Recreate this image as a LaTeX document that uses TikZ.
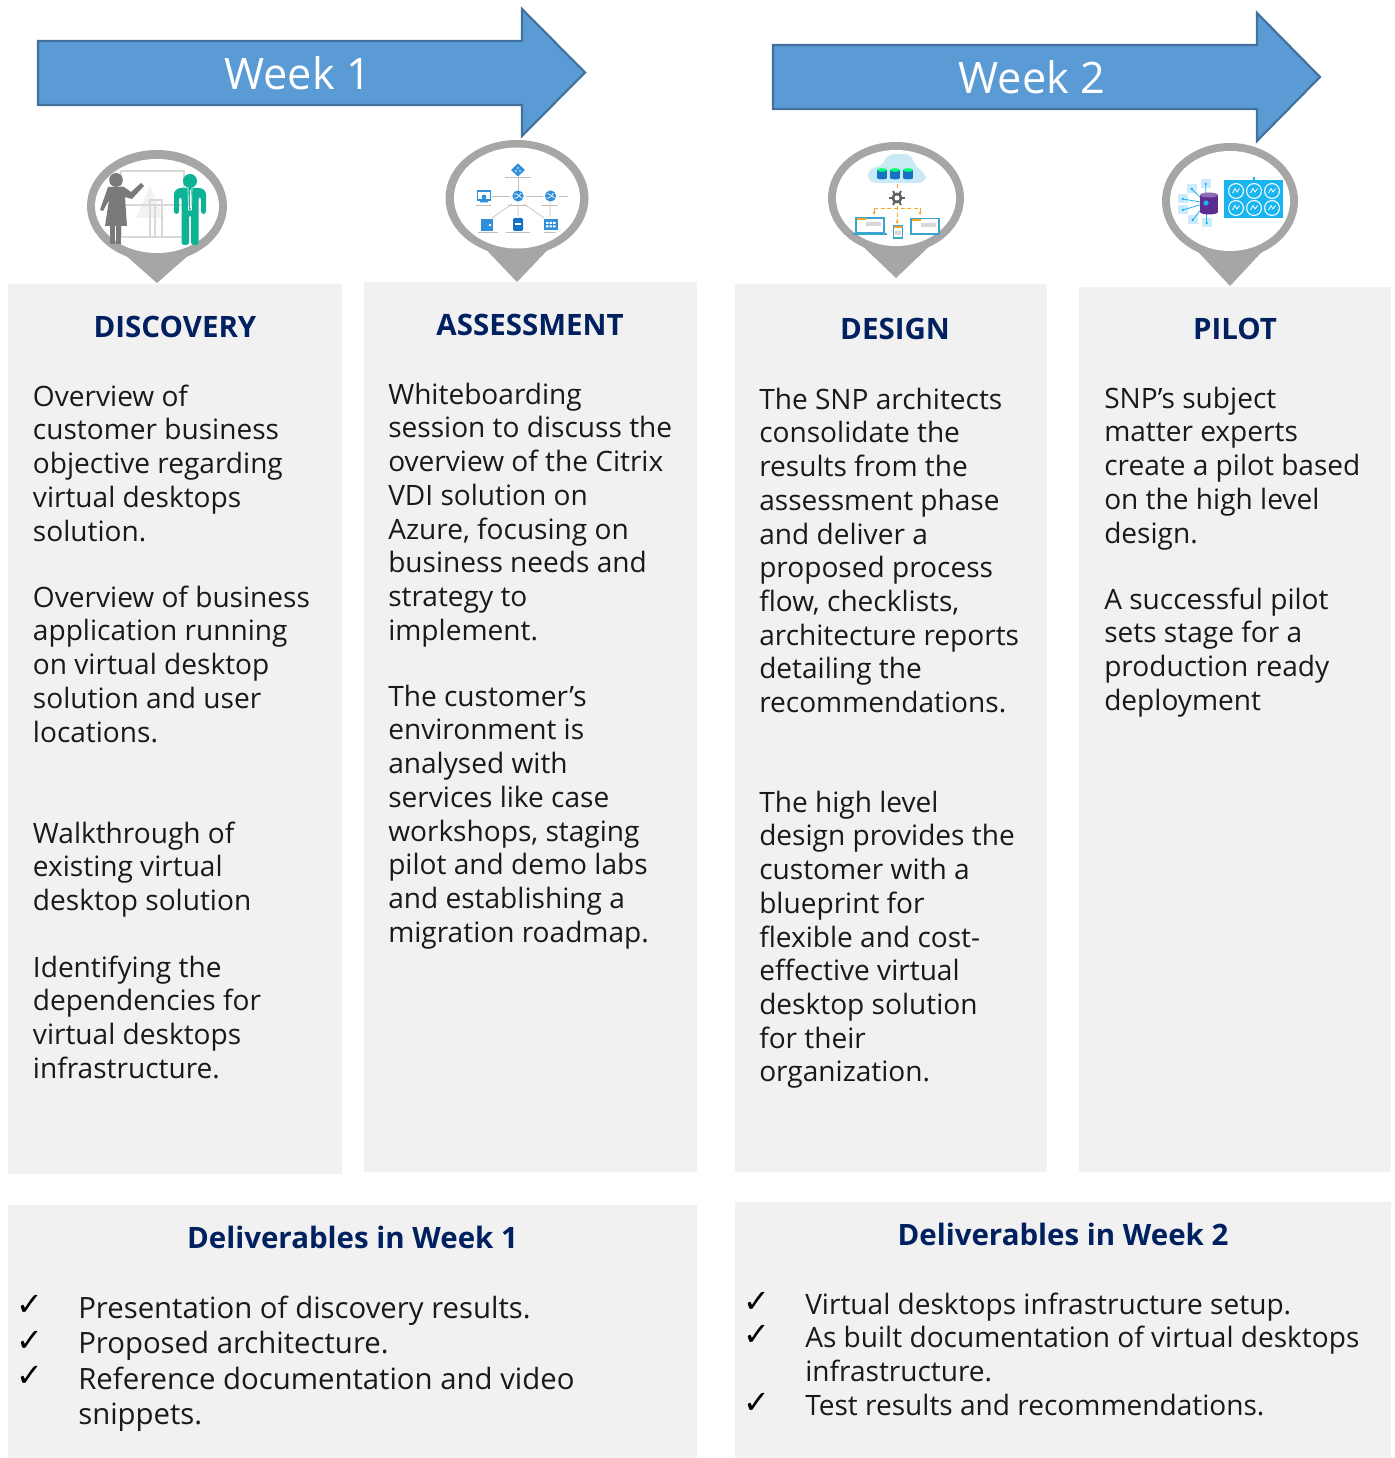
\documentclass[tikz,border=0pt]{standalone}
\usepackage{fontspec}
\setmainfont{Open Sans}
\newfontfamily\chk{DejaVu Sans}
\definecolor{panelgray}{HTML}{F1F1F1}
\definecolor{navy}{HTML}{002060}
\definecolor{arrowfill}{HTML}{5B9BD5}
\definecolor{arrowedge}{HTML}{41719C}
\definecolor{pingray}{HTML}{A6A6A6}
\definecolor{azure}{HTML}{2F8FD8}
\definecolor{azdark}{HTML}{1572C4}
\definecolor{teal1}{HTML}{0DB394}
\definecolor{wgray}{HTML}{7A7A7A}
\definecolor{cyanb}{HTML}{19B5F1}
\definecolor{cyanl}{HTML}{CDEBFA}
\definecolor{orng}{HTML}{F5A623}
\definecolor{cloudb}{HTML}{C9E9F4}
\definecolor{purp}{HTML}{5C2D91}
\tikzset{
 panel/.style={fill=panelgray},
 weekarrow/.style={fill=arrowfill,draw=arrowedge,line width=1.6pt,line join=miter},
 weeklabel/.style={text=white,font=\fontsize{32.5}{40}\selectfont,inner sep=0},
 title/.style={text=navy,font=\fontsize{22.1}{28}\selectfont\bfseries,inner sep=0},
 para/.style={anchor=north west,align=left,inner sep=0,yshift=17pt,text=black!90,font=\fontsize{21.05}{25.27}\selectfont},
 paralarge/.style={para,font=\fontsize{22}{26.6}\selectfont},
 tick/.style={inner sep=0,font=\fontsize{24}{28}\selectfont\chk,text=black},
 tinyline/.style={draw=black!25,line width=.5pt},
}
\newcommand\mypin[7]{% cx cy orx ory irx iry tipy
 \fill[pingray] (#1,#2) ellipse [x radius=#3,y radius=#4];
 \fill[pingray] (#1-42,#2+40) -- (#1,#7) -- (#1+42,#2+40) -- cycle;
 \fill[white] (#1,#2) ellipse [x radius=#5,y radius=#6];
}
\newcommand\azglobe[2]{%
 \fill[azure] (#1,#2) circle [radius=5.6];
 \draw[white,line width=.5pt] (#1-4,#2-2) .. controls (#1,#2-3) and (#1+2,#2+1) .. (#1+4,#2+2);
 \draw[white,line width=.5pt] (#1-4,#2+2) .. controls (#1-1,#2+3) and (#1+2,#2-1) .. (#1+3,#2-3);
}
\newcommand\minicirc[2]{%
 \fill[white] (#1,#2) circle [radius=8];
 \fill[cyanb] (#1,#2) circle [radius=6.8];
 \draw[white,line width=.6pt] (#1-3.5,#2+2) -- (#1-1,#2-2.5) -- (#1+1,#2+1) -- (#1+3.5,#2-2.5);
}
\newcommand\minitile[2]{%
 \fill[cyanl] (#1-5,#2-4.5) rectangle (#1+5,#2+4.5);
 \fill[cyanb] (#1,#2) circle [radius=1.4];
}
\begin{document}
\begin{tikzpicture}[x=.75pt,y=-.75pt]
\useasboundingbox (0,0) rectangle (1394,1458);
% panels
\fill[panel] (8,284) rectangle (342,1174);
\fill[panel] (364,282) rectangle (697,1172);
\fill[panel] (735,284) rectangle (1047,1172);
\fill[panel] (1079,287) rectangle (1391,1172);
\fill[panel] (8,1205) rectangle (697,1458);
\fill[panel] (735,1202) rectangle (1391,1458);
% arrows
\draw[weekarrow] (38,41) -- (522,41) -- (522,9) -- (585,72.5) -- (522,136) -- (522,105) -- (38,105) -- cycle;
\draw[weekarrow] (773,45) -- (1257,45) -- (1257,13) -- (1320,77) -- (1257,141) -- (1257,109) -- (773,109) -- cycle;
\node[weeklabel] (week1) at (297.5,73) {Week 1};
\node[weeklabel] (week2) at (1032,77) {Week 2};
% pins
\mypin{157}{206}{70}{56}{62}{47}{283}
\mypin{517}{198}{71.5}{58}{63}{50.5}{282}
\mypin{896}{198}{68}{56}{60}{48}{278}
\mypin{1230}{201}{68}{58}{60}{50}{286}
% --- discovery icon
\draw[black!15,line width=1.8pt] (121,171) rectangle (184,237);
\fill[black!5] (150,186) -- (136,218) -- (164,218) -- cycle;
\draw[black!15,line width=1.6pt] (122,205) -- (184,205);
\draw[black!15,line width=1.2pt] (150,237) -- (150,200) -- (162,200) -- (162,237);
\draw[black!15,line width=1.2pt] (155,237) -- (155,206);
% woman
\fill[wgray] (116,180) ellipse [x radius=6.8,y radius=7];
\fill[wgray] (108,187) -- (124,187) -- (131,192) -- (141,183) -- (144,186) -- (132,199) -- (125,197) -- (127,226) -- (105,226) -- (109,200) -- (103,211) -- (100,210) -- cycle;
\fill[wgray] (110,224) rectangle (115,244);
\fill[wgray] (116,224) rectangle (121,244);
% man
\fill[teal1] (190,181) ellipse [x radius=7,y radius=7];
\fill[teal1,rounded corners=2pt] (178,188) -- (202,188) -- (206,192) -- (206,214) -- (201,214) -- (201,197) -- (198.5,197) -- (198.5,245) -- (191,245) -- (191,215) -- (189,215) -- (189,245) -- (181.5,245) -- (181.5,197) -- (179,197) -- (179,214) -- (174,214) -- (174,192) -- cycle;
\draw[white,line width=.5pt] (188,188) -- (188.5,210) -- (191.5,210) -- (192,188);
\draw[white,line width=.6pt] (190,190) -- (190,208);
% --- assessment icon
\draw[tinyline] (518,178) -- (518,190) (492,196) -- (510,196) (526,196) -- (543,196) (559,196) -- (568,196);
\draw[tinyline] (512,204) -- (492,218) (518,204) -- (518,216) (524,204) -- (544,218) (550,203) -- (550,216);
\fill[azure] (518,163.5) -- (525,170) -- (518,176.5) -- (511,170) -- cycle;
\fill[white] (518,168) circle [radius=.9] (516,171) circle [radius=.9] (520,171) circle [radius=.9];
\azglobe{518}{196}
\azglobe{550.5}{196}
\fill[azure] (476.5,190) rectangle (491,201);
\fill[white] (478,192.5) rectangle (489.5,199);
\fill[azure] (484,197) circle [radius=2.4] (480,201) rectangle (488,202.5);
\fill[azure] (481,219) rectangle (493,231);
\fill[white] (490,225) circle [radius=1.4];
\fill[azdark,rounded corners=1pt] (513,218) rectangle (523,231);
\fill[white] (515,223.5) rectangle (521,225);
\fill[azure] (544,219) rectangle (558,230);
\foreach \xx in {546,549.5,553}{\fill[white] (\xx,222) rectangle (\xx+2.6,224) (\xx,225.5) rectangle (\xx+2.6,227.5);}
\draw[tinyline] (505,177.5) -- (531,177.5) (476,205) -- (491,205) (508,205) -- (527,205) (541,205) -- (558,205) (478,232.5) -- (498,232.5) (506,232.5) -- (530,232.5) (544,232.5) -- (556,232.5);
% --- design icon
\fill[cloudb,rounded corners=6pt] (868,183) -- (868,168) -- (884,166) -- (886,154) -- (912,154) -- (915,168) -- (926,172) -- (926,183) -- cycle;
\foreach \xx in {882,895,908}{
 \fill[azdark] (\xx-5,170) rectangle (\xx+5,178);
 \fill[azdark] (\xx,178) ellipse [x radius=5,y radius=1.4];
 \fill[green!55!cyan] (\xx,170) ellipse [x radius=5,y radius=1.8];
}
\draw[orng,densely dashed,line width=.7pt] (897,184) -- (897,190);
\draw[orng,densely dashed,line width=.7pt] (897,206) -- (897,222);
\draw[orng,densely dashed,line width=.7pt] (874,208) -- (920,208);
\draw[orng,densely dashed,line width=.7pt] (874,208) -- (874,213);
\draw[orng,densely dashed,line width=.7pt] (920,208) -- (920,213);
\fill[orng] (895.5,221) -- (898.5,221) -- (897,224) -- cycle (872.5,212) -- (875.5,212) -- (874,215) -- cycle (918.5,212) -- (921.5,212) -- (920,215) -- cycle;
\fill[wgray!80!black] (897,198) circle [radius=5.5];
\foreach \a in {0,60,...,300}{\draw[wgray!80!black,line width=1.5pt] (897,198) -- ++(\a:8);}
\fill[white] (897,198) circle [radius=2.5];
\draw[cyanb!70!gray,line width=1pt,fill=white] (856,218) rectangle (884,233);
\fill[orng] (857,218.5) rectangle (866,220);
\fill[black!15] (866,222) rectangle (881,226);
\fill[cyanb!70!gray] (853,233) rectangle (887,235);
\draw[cyanb!70!gray,line width=1pt,fill=white] (893.5,225.5) rectangle (902.5,238);
\fill[orng] (894,226) rectangle (902,228);
\fill[black!15] (895,231) rectangle (901,235);
\draw[cyanb!70!gray,line width=1.2pt,fill=white] (911,218.5) rectangle (939,234);
\fill[orng] (912,219) rectangle (921,221);
\fill[black!15] (921,223) rectangle (936,227);
% --- pilot icon
\coordinate (hub) at (1206,203);
\foreach \px/\py in {1205.7/184,1191.7/189,1182.7/199,1182.7/210,1192.7/220,1206.7/223}{
 \minitile{\px}{\py}
 \draw[cyanb,line width=.6pt] (hub) -- (\px,\py);
}
\fill[purp] (1200,195) rectangle (1218,212);
\fill[purp] (1209,212) ellipse [x radius=9,y radius=2.5];
\fill[purp!70] (1209,195) ellipse [x radius=9,y radius=2.5];
\fill[cyanb] (hub) circle [radius=2.6];
\fill[cyanb] (1224,180) rectangle (1283,218);
\fill[cyanb] (1253,177) rectangle (1255,180);
\minicirc{1236}{191}
\minicirc{1254}{191}
\minicirc{1272}{191}
\minicirc{1236}{208}
\minicirc{1254}{208}
\minicirc{1272}{208}
% titles
\node[title] (t1) at (175,327) {DISCOVERY};
\node[title] (t2) at (530,325) {ASSESSMENT};
\node[title] (t3) at (895,329) {DESIGN};
\node[title] (t4) at (1235,329) {PILOT};
\node[title] (t5) at (352.5,1237) {Deliverables in Week 1};
\node[title] (t6) at (1063,1234) {Deliverables in Week 2};
% body text (baseline of first line, px)
\newcommand\strutx{\rule{0pt}{17pt}}
\node[para] (d1) at (32.7,406) {\strutx Overview of\\customer business\\objective regarding\\virtual desktops\\solution.};
\node[para] (d2) at (32.7,607) {\strutx Overview of business\\application running\\on virtual desktop\\solution and user\\locations.};
\node[para] (d3) at (32.7,843) {\strutx Walkthrough of\\existing virtual\\desktop solution};
\node[para] (d4) at (32.7,977) {\strutx Identifying the\\dependencies for\\virtual desktops\\infrastructure.};
\node[para] (a1) at (388,404) {\strutx Whiteboarding\\session to discuss the\\overview of the Citrix\\VDI solution on\\Azure, focusing on\\business needs and\\strategy to\\implement.};
\node[para] (a2) at (388,706) {\strutx The customer’s\\environment is\\analysed with\\services like case\\workshops, staging\\pilot and demo labs\\and establishing a\\migration roadmap.};
\node[para] (s1) at (759,409) {\strutx The SNP architects\\consolidate the\\results from the\\assessment phase\\and deliver a\\proposed process\\flow, checklists,\\architecture reports\\detailing the\\recommendations.};
\node[para] (s2) at (759,812) {\strutx The high level\\design provides the\\customer with a\\blueprint for\\flexible and cost-\\effective virtual\\desktop solution\\for their\\organization.};
\node[para] (p1) at (1104,408) {\strutx SNP’s subject\\matter experts\\create a pilot based\\on the high level\\design.};
\node[para] (p2) at (1104,609) {\strutx A successful pilot\\sets stage for a\\production ready\\deployment};
\node[paralarge] (w1) at (78,1318) {\strutx Presentation of discovery results.\\Proposed architecture.\\Reference documentation and video\\snippets.};
\node[para] (w2) at (805,1314) {\strutx Virtual desktops infrastructure setup.\\As built documentation of virtual desktops\\infrastructure.\\Test results and recommendations.};
\node[tick] (c1) at (30,1305) {✓};
\node[tick] (c2) at (30,1341) {✓};
\node[tick] (c3) at (30,1376) {✓};
\node[tick] (c4) at (757,1302) {✓};
\node[tick] (c5) at (757,1335) {✓};
\node[tick] (c6) at (757,1403) {✓};
\end{tikzpicture}
\end{document}
